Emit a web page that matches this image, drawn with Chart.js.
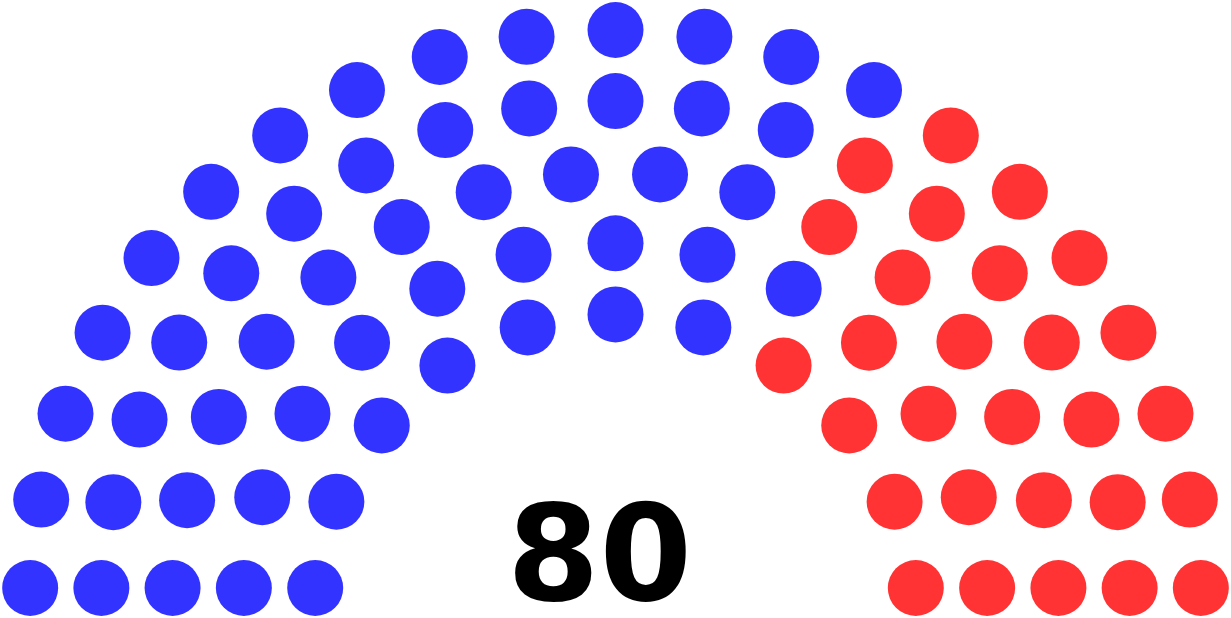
<!DOCTYPE html>
<html>
<head>
<meta charset="utf-8">
<script src="https://cdn.jsdelivr.net/npm/chart.js@4/dist/chart.umd.min.js"></script>
<style>
  html, body { margin: 0; padding: 0; background: #fff; }
  #wrap { width: 1231px; height: 618px; }
</style>
</head>
<body>
<div id="wrap"><canvas id="seats"></canvas></div>
<script>
// parties and seats
const parties = ["Blue", "Red"];
const seats = [52, 28];
const colors = ["#3333ff", "#ff3333"];
const totalLabel = "80";

// seats per ring, outer to inner
const ringSeats = [21, 19, 16, 13, 11];

// layout of the half circle
const outerRadius = 586;
const ringStep = 71.1;
const dotRadius = 28;

// place every seat on its ring, then sort them left to right by angle
const allSeats = [];
ringSeats.forEach((n, i) => {
  const r = outerRadius - i * ringStep;
  const a0 = Math.asin(dotRadius / r);
  const step = (Math.PI - 2 * a0) / (n - 1);
  for (let j = 0; j < n; j++) {
    const a = a0 + j * step;
    allSeats.push({ a, x: -r * Math.cos(a), y: r * Math.sin(a) });
  }
});
allSeats.sort((p, q) => p.a - q.a);

let start = 0;
const datasets = parties.map((p, k) => {
  const pts = allSeats.slice(start, start + seats[k]).map(s => ({ x: s.x, y: s.y }));
  start += seats[k];
  return {
    label: p,
    data: pts,
    backgroundColor: colors[k],
    borderWidth: 0,
    pointRadius: dotRadius,
    pointHoverRadius: dotRadius,
    clip: false,
  };
});

const totalText = {
  id: "totalText",
  afterDraw(chart) {
    const c = chart.ctx;
    const x = chart.scales.x.getPixelForValue(-16);
    const y = chart.scales.y.getPixelForValue(16);
    c.save();
    c.font = "bold 133px 'DejaVu Sans'";
    c.fillStyle = "#000";
    c.textAlign = "center";
    c.textBaseline = "alphabetic";
    c.fillText(totalLabel, x, y);
    c.restore();
  }
};

new Chart(document.getElementById("seats"), {
  type: "scatter",
  data: { datasets },
  options: {
    responsive: true,
    maintainAspectRatio: false,
    animation: false,
    layout: { padding: 0, autoPadding: false },
    plugins: { legend: { display: false }, tooltip: { enabled: false } },
    scales: {
      x: { type: "linear", min: -615.5, max: 615.5, display: false },
      y: { type: "linear", min: -2, max: 616, display: false },
    },
  },
  plugins: [totalText],
});
</script>
</body>
</html>
